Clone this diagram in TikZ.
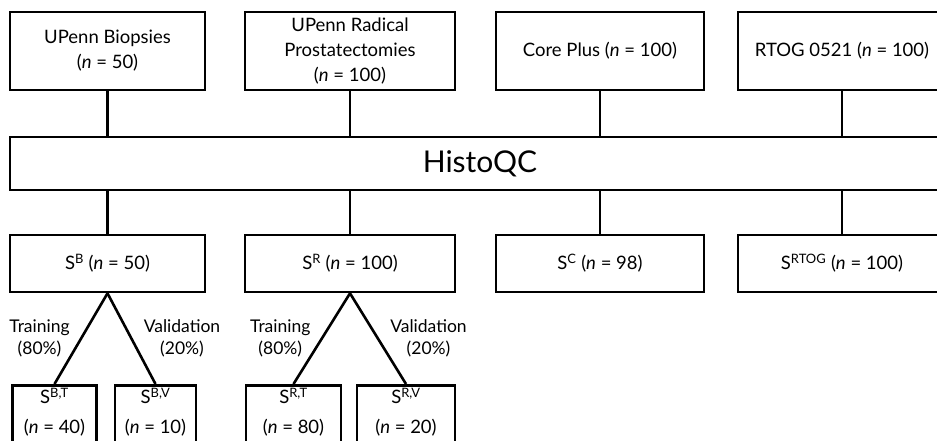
\documentclass[tikz,border=0pt]{standalone}
\usepackage{fontspec}
\setmainfont{Lato}
\usetikzlibrary{positioning}
\newcommand{\nn}{\textit{n}}

\begin{document}
\begin{tikzpicture}[x=1pt,y=-1pt,
  box/.style={shape=rectangle,draw,line width=2.6pt,align=center,inner sep=0pt,
    font=\fontsize{18.5}{25}\selectfont},
  leaf/.style={box,anchor=north,inner ysep=3pt},
  link/.style={line width=2.6pt},
  lab/.style={align=center,inner sep=0pt,font=\fontsize{17.5}{22}\selectfont}]
\useasboundingbox (0,0) rectangle (937,440);
\clip (0,0) rectangle (937,440);

% data sets
\node[box,minimum width=195,minimum height=78] (UB) at (107.5,51) {UPenn Biopsies\\(\nn{} = 50)};
\node[box,minimum width=210,minimum height=78] (UR) at (350,51) {UPenn Radical\\Prostatectomies\\(\nn{} = 100)};
\node[box,minimum width=208,minimum height=78] (CP) at (600,51) {Core Plus (\nn{} = 100)};
\node[box,minimum width=208,minimum height=78] (RG) at (842,51) {RTOG 0521 (\nn{} = 100)};

% quality control
\node[box,minimum width=940,minimum height=53,font=\fontsize{30}{36}\selectfont] (HQ) at (480,163.5) {HistoQC};

% cleaned sets
\node[box,minimum width=195,minimum height=57] (SB) at (107.5,263.5) {S\textsuperscript{B} (\nn{} = 50)};
\node[box,minimum width=210,minimum height=57] (SR) at (350,263.5) {S\textsuperscript{R} (\nn{} = 100)};
\node[box,minimum width=208,minimum height=57] (SC) at (600,263.5) {S\textsuperscript{C} (\nn{} = 98)};
\node[box,minimum width=208,minimum height=57] (SG) at (842,263.5) {S\textsuperscript{RTOG} (\nn{} = 100)};

% splits
\node[leaf,minimum width=84] (BT) at (54.5,384) {S\textsuperscript{B,T}\\[5pt](\nn{} = 40)\\\mbox{}};
\node[leaf,minimum width=81] (BV) at (155.5,384) {S\textsuperscript{B,V}\\[5pt](\nn{} = 10)\\\mbox{}};
\node[leaf,minimum width=95] (RT) at (293.5,384) {S\textsuperscript{R,T}\\[5pt](\nn{} = 80)\\\mbox{}};
\node[leaf,minimum width=98] (RV) at (406,384) {S\textsuperscript{R,V}\\[5pt](\nn{} = 20)\\\mbox{}};

\draw[link] (UB.south) -- (UB.south |- HQ.north);
\draw[link] (UR.south) -- (UR.south |- HQ.north);
\draw[link] (CP.south) -- (CP.south |- HQ.north);
\draw[link] (RG.south) -- (RG.south |- HQ.north);
\draw[link] (HQ.south -| SB.north) -- (SB.north);
\draw[link] (HQ.south -| SR.north) -- (SR.north);
\draw[link] (HQ.south -| SC.north) -- (SC.north);
\draw[link] (HQ.south -| SG.north) -- (SG.north);

\draw[link] (SB.south) -- node[lab,midway,left=10pt] {Training\\(80\%)} (BT.north);
\draw[link] (SB.south) -- node[lab,midway,right=11pt] {Validation\\(20\%)} (BV.north);
\draw[link] (SR.south) -- node[lab,midway,left=10pt] {Training\\(80\%)} (RT.north);
\draw[link] (SR.south) -- node[lab,midway,right=11pt] {Validation\\(20\%)} (RV.north);
\end{tikzpicture}
\end{document}
